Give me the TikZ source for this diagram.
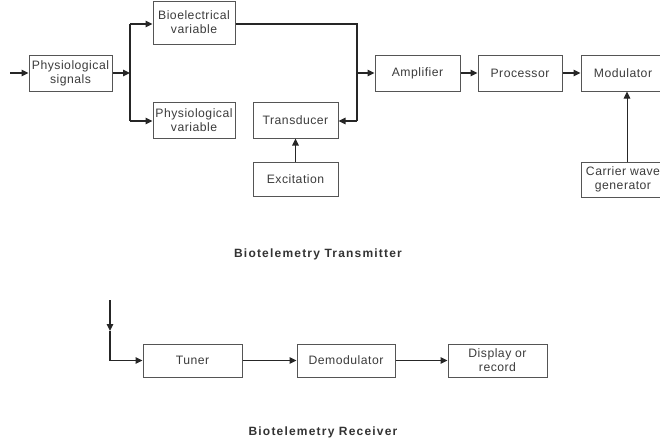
\documentclass[tikz,border=0pt]{standalone}
\usepackage{fontspec}
\setmainfont{Liberation Sans}[LetterSpace=4]
\newfontfamily\titlefont{Liberation Sans}[LetterSpace=10]
\usetikzlibrary{arrows.meta}
\definecolor{txt}{HTML}{3C3C3C}
\definecolor{bord}{HTML}{555555}
\tikzset{
  blk/.style={draw=bord, line width=1pt, text=txt, align=center, inner sep=1pt,
    font=\fontsize{12.2}{13.8}\selectfont},
  conn/.style={draw=black!85, line width=1.4pt, -{Triangle[length=7pt,width=6.5pt]}},
  plain/.style={draw=black!85, line width=1.4pt},
  thin/.style={draw=black!85, line width=1pt, -{Triangle[length=7pt,width=6.5pt]}},
  ttl/.style={text=black!80, font=\titlefont\bfseries\fontsize{12}{13}\selectfont}
}
\begin{document}
\begin{tikzpicture}[x=1pt,y=-1pt]
\useasboundingbox (0,0) rectangle (660,439);
\clip (0,0) rectangle (660,439);
\fill[white] (0,0) rectangle (660,439);
% transmitter blocks
\node[blk, minimum width=83pt, minimum height=36pt] (phys) at (70.5,73) {Physiological\\signals};
\node[blk, minimum width=82pt, minimum height=43pt] (bio) at (194,22.5) {Bioelectrical\\variable};
\node[blk, minimum width=82pt, minimum height=36pt] (pvar) at (194,120) {Physiological\\variable};
\node[blk, minimum width=85pt, minimum height=36pt] (trans) at (295.5,120) {Transducer};
\node[blk, minimum width=85pt, minimum height=34pt] (exc) at (295.5,179) {Excitation};
\node[blk, minimum width=85pt, minimum height=36pt] (amp) at (417.5,73) {Amplifier};
\node[blk, minimum width=84pt, minimum height=36pt] (proc) at (520,73) {Processor};
\node[blk, minimum width=84pt, minimum height=36pt] (mod) at (623,73) {Modulator};
\node[blk, minimum width=84pt, minimum height=35pt] (carr) at (623,179.5) {Carrier wave\\generator};
% transmitter connectors
\coordinate (in1) at (10,73);
\coordinate (j1) at (130,73);
\coordinate (j1a) at (130,24);
\coordinate (j1b) at (130,121);
\coordinate (j2a) at (357,24);
\coordinate (j2) at (357,73);
\coordinate (j2b) at (357,121);
\draw[conn] (in1) -- (phys.west);
\draw[conn] (phys.east) -- (j1);
\draw[plain] (j1a) -- (j1b);
\draw[conn] (j1a) -- (j1a -| bio.west);
\draw[conn] (j1b) -- (j1b -| pvar.west);
\draw[plain] (j2a -| bio.east) -- (j2a) -- (j2b);
\draw[conn] (j2b) -- (j2b -| trans.east);
\draw[conn] (j2) -- (amp.west);
\draw[conn] (exc.north) -- (trans.south);
\draw[conn] (amp.east) -- (proc.west);
\draw[conn] (proc.east) -- (mod.west);
\draw[thin] ([xshift=4pt]carr.north) -- ([xshift=4pt]mod.south);
\node[ttl] (ttx) at (318,254) {Biotelemetry Transmitter};
% receiver
\node[blk, minimum width=99pt, minimum height=33pt] (tuner) at (192.5,360.5) {Tuner};
\node[blk, minimum width=98pt, minimum height=33pt] (demod) at (346,360.5) {Demodulator};
\node[blk, minimum width=99pt, minimum height=33pt] (disp) at (497.5,360.5) {Display or\\record};
\coordinate (rin) at (110,300);
\coordinate (rmid) at (110,331);
\coordinate (rcorner) at (110,360.5);
\draw[conn] (rin) -- (rmid);
\draw[plain] (rmid) -- (rcorner);
\draw[thin] (rcorner) -- (tuner.west);
\draw[thin] (tuner.east) -- (demod.west);
\draw[thin] (demod.east) -- (disp.west);
\node[ttl] (trx) at (323,432) {Biotelemetry Receiver};
\end{tikzpicture}
\end{document}
